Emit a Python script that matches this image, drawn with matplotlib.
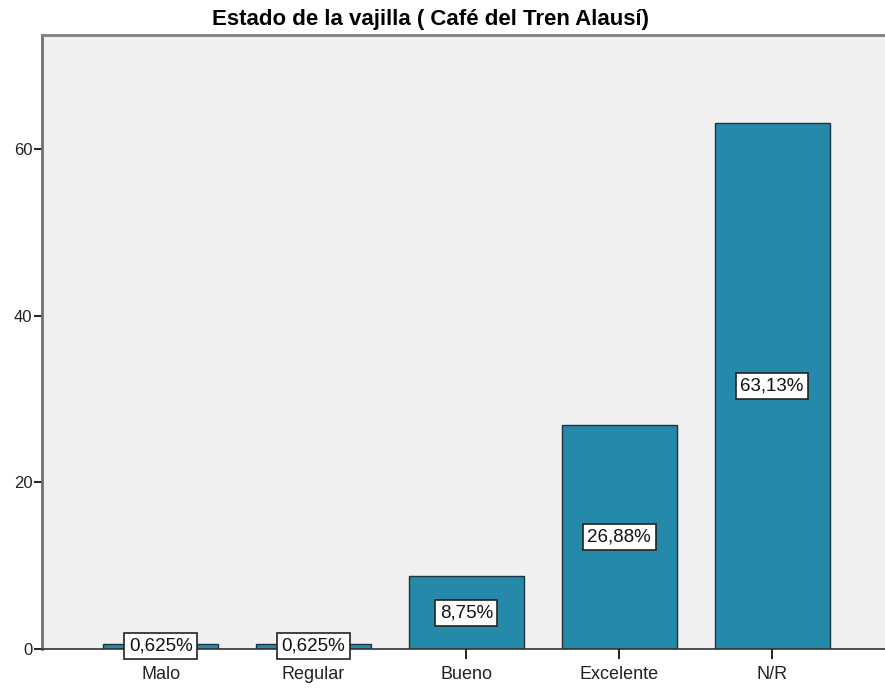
import matplotlib.pyplot as plt

plt.rcParams['font.family'] = ['Liberation Sans', 'DejaVu Sans']

# data
categories = ["Malo", "Regular", "Bueno", "Excelente", "N/R"]
percent = [0.625, 0.625, 8.75, 26.88, 63.13]
labels = ["0,625%", "0,625%", "8,75%", "26,88%", "63,13%"]

fig = plt.figure(figsize=(8.85, 6.91), dpi=100)
ax = fig.add_axes([0.0475, 0.0608, 0.952, 0.888])
ax.set_facecolor("#f0f0f0")

x = list(range(len(categories)))
ax.bar(x, percent, width=0.753, color="#2589aa", edgecolor="#1f3440", linewidth=1.0, zorder=2)

for xi, v, lab in zip(x, percent, labels):
    ax.text(xi, v / 2, lab, ha="center", va="center", fontsize=13.5, color="#111111", zorder=3,
            bbox=dict(boxstyle="square,pad=0.24", facecolor="white", edgecolor="#222222", linewidth=1.2))

ax.set_xlim(-0.776, 4.736)
ax.set_ylim(0, 73.7)
ax.set_xticks(x)
ax.set_xticklabels(categories, fontsize=13)
ax.set_yticks([0, 20, 40, 60])
ax.tick_params(axis="y", labelsize=12, length=6, width=1.4, color="#222222", pad=1)
ax.tick_params(axis="x", length=7, width=1.4, color="#222222", pad=5)
for t in ax.get_xticklabels() + ax.get_yticklabels():
    t.set_color("#222222")

ax.spines["right"].set_visible(False)
ax.spines["left"].set_color("#707070")
ax.spines["left"].set_linewidth(2)
ax.spines["top"].set_color("#808080")
ax.spines["top"].set_linewidth(2)
ax.spines["bottom"].set_color("#333333")
ax.spines["bottom"].set_linewidth(1.2)

fig.text(0.486, 0.972, "Estado de la vajilla ( Café del Tren Alausí)", ha="center", va="center",
         fontsize=16, fontweight="bold")

fig.savefig("out.png", dpi=100)
